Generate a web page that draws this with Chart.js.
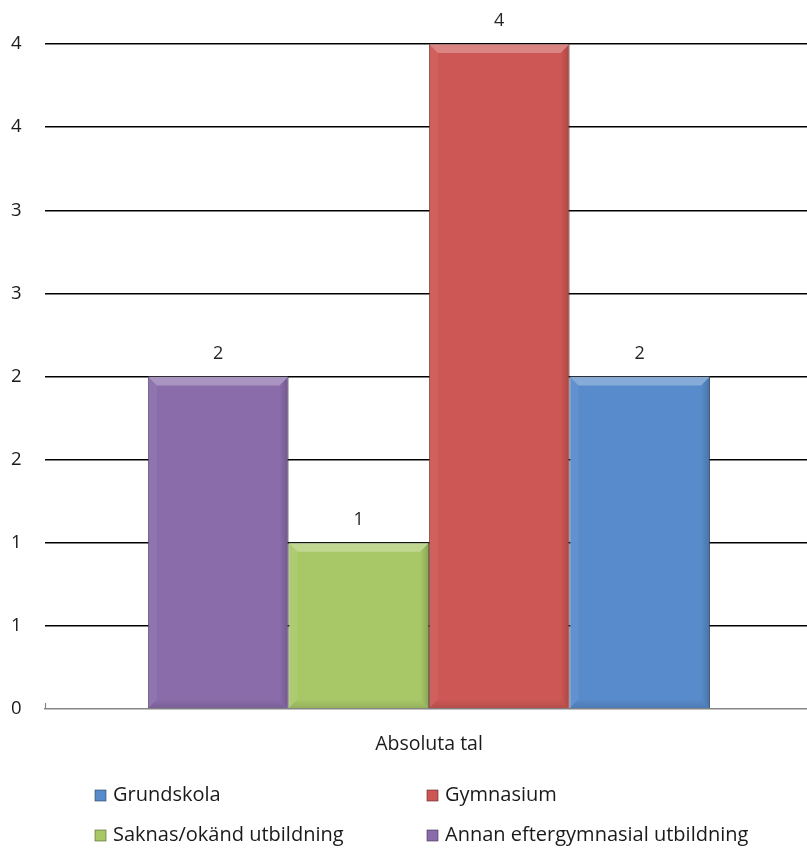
<!DOCTYPE html>
<html>
<head>
<meta charset="utf-8">
<script src="https://cdn.jsdelivr.net/npm/chart.js@4/dist/chart.umd.min.js"></script>
<style>
html,body{margin:0;padding:0;background:#fff;}
#wrap{width:807px;height:851px;position:relative;overflow:hidden;}
</style>
</head>
<body>
<div id="wrap"><canvas id="chart" width="813" height="851"></canvas></div>
<script>
// data
const categories=['Absoluta tal'];
const seriesNames=['Annan eftergymnasial utbildning','Saknas/okänd utbildning','Gymnasium','Grundskola'];
const seriesValues=[2,1,4,2];
const seriesColors=['#8a6cab','#a8c868','#cd5754','#588bcb'];
const seriesBorders=['#3d2f52','#4c5c2c','#5e2422','#26405f'];
const tickLabels=['0','1','1','2','2','3','3','4','4'];

const FONT='"Open Sans", "DejaVu Sans", sans-serif';

// soft bevel like the excel bars
const bevel={id:'bevel',afterDatasetsDraw(chart){
  const ctx=chart.ctx;ctx.save();
  chart.data.datasets.forEach((ds,i)=>{
    chart.getDatasetMeta(i).data.forEach(bar=>{
      const l=bar.x-bar.width/2,r=bar.x+bar.width/2,t=bar.y,b=bar.base,d=9;
      ctx.fillStyle='rgba(255,255,255,0.28)';
      ctx.beginPath();ctx.moveTo(l,t);ctx.lineTo(r,t);ctx.lineTo(r-d,t+d);ctx.lineTo(l+d,t+d);ctx.closePath();ctx.fill();
      let g=ctx.createLinearGradient(r-d,0,r,0);
      g.addColorStop(0,'rgba(0,0,0,0)');g.addColorStop(1,'rgba(0,0,0,0.18)');
      ctx.fillStyle=g;
      ctx.beginPath();ctx.moveTo(r,t);ctx.lineTo(r,b);ctx.lineTo(r-d,b-d);ctx.lineTo(r-d,t+d);ctx.closePath();ctx.fill();
      g=ctx.createLinearGradient(0,b-d,0,b);
      g.addColorStop(0,'rgba(0,0,0,0)');g.addColorStop(1,'rgba(0,0,0,0.12)');
      ctx.fillStyle=g;
      ctx.beginPath();ctx.moveTo(l,b);ctx.lineTo(r,b);ctx.lineTo(r-d,b-d);ctx.lineTo(l+d,b-d);ctx.closePath();ctx.fill();
      ctx.fillStyle='rgba(255,255,255,0.06)';
      ctx.beginPath();ctx.moveTo(l,t);ctx.lineTo(l+d,t+d);ctx.lineTo(l+d,b-d);ctx.lineTo(l,b);ctx.closePath();ctx.fill();
    });
  });
  ctx.restore();
}};

// value above each bar
const valueLabels={id:'valueLabels',afterDatasetsDraw(chart){
  const ctx=chart.ctx;ctx.save();
  ctx.font='18px '+FONT;ctx.fillStyle='#262626';ctx.textAlign='center';ctx.textBaseline='middle';
  chart.data.datasets.forEach((ds,i)=>{
    chart.getDatasetMeta(i).data.forEach((bar,j)=>{
      ctx.fillText(String(ds.data[j]),bar.x,bar.y-23);
    });
  });
  ctx.restore();
}};

// two column legend, reversed order like excel
const gridLegend={id:'gridLegend',afterDraw(chart){
  const ctx=chart.ctx;ctx.save();
  ctx.font='20px '+FONT;ctx.textBaseline='middle';ctx.textAlign='left';
  const items=chart.data.datasets.map((d,i)=>({label:d.label,color:seriesColors[i],border:seriesBorders[i]})).reverse();
  const cols=[95,427],rows=[795,835];
  items.forEach((it,k)=>{
    const x=cols[k%2],y=rows[Math.floor(k/2)];
    ctx.fillStyle=it.color;ctx.fillRect(x,y-5,11,11);
    ctx.strokeStyle=it.border;ctx.lineWidth=0.6;ctx.strokeRect(x,y-5,11,11);
    ctx.fillStyle='#1a1a1a';ctx.fillText(it.label,x+18,y);
  });
  ctx.restore();
}};

// little gray tick at the left end of the x axis
const axisCorner={id:'axisCorner',afterDraw(chart){
  const a=chart.chartArea,ctx=chart.ctx;ctx.save();
  ctx.strokeStyle='#868686';ctx.lineWidth=1.2;
  ctx.beginPath();ctx.moveTo(a.left+0.5,a.bottom-6);ctx.lineTo(a.left+0.5,a.bottom);ctx.stroke();
  ctx.restore();
}};

const ctx=document.getElementById('chart').getContext('2d');
new Chart(ctx,{type:'bar',
  data:{labels:categories,
    datasets:seriesNames.map((n,i)=>({label:n,data:[seriesValues[i]],
      backgroundColor:seriesColors[i],borderColor:seriesBorders[i],borderWidth:0.8,
      categoryPercentage:0.7318,barPercentage:1}))},
  options:{responsive:false,animation:false,
    layout:{padding:{top:44,left:11,right:0,bottom:100}},
    plugins:{legend:{display:false},tooltip:{enabled:false},title:{display:false}},
    scales:{
      x:{grid:{display:false,drawTicks:false},
        border:{display:true,color:'#868686',width:1.5},
        ticks:{color:'#1a1a1a',font:{family:FONT,size:19.5},padding:24},
        afterFit(s){s.height=42;}},
      y:{min:0,max:4,
        ticks:{stepSize:0.5,color:'#1a1a1a',font:{family:FONT,size:18.5},crossAlign:'far',padding:0,
          callback:(v,i)=>tickLabels[i]},
        grid:{drawTicks:false,color:c=>c.index===0?'rgba(0,0,0,0)':'#000',lineWidth:1.5},
        border:{display:false},
        afterFit(s){s.width=34;}}
    }},
  plugins:[bevel,valueLabels,gridLegend,axisCorner]});
</script>
</body>
</html>
